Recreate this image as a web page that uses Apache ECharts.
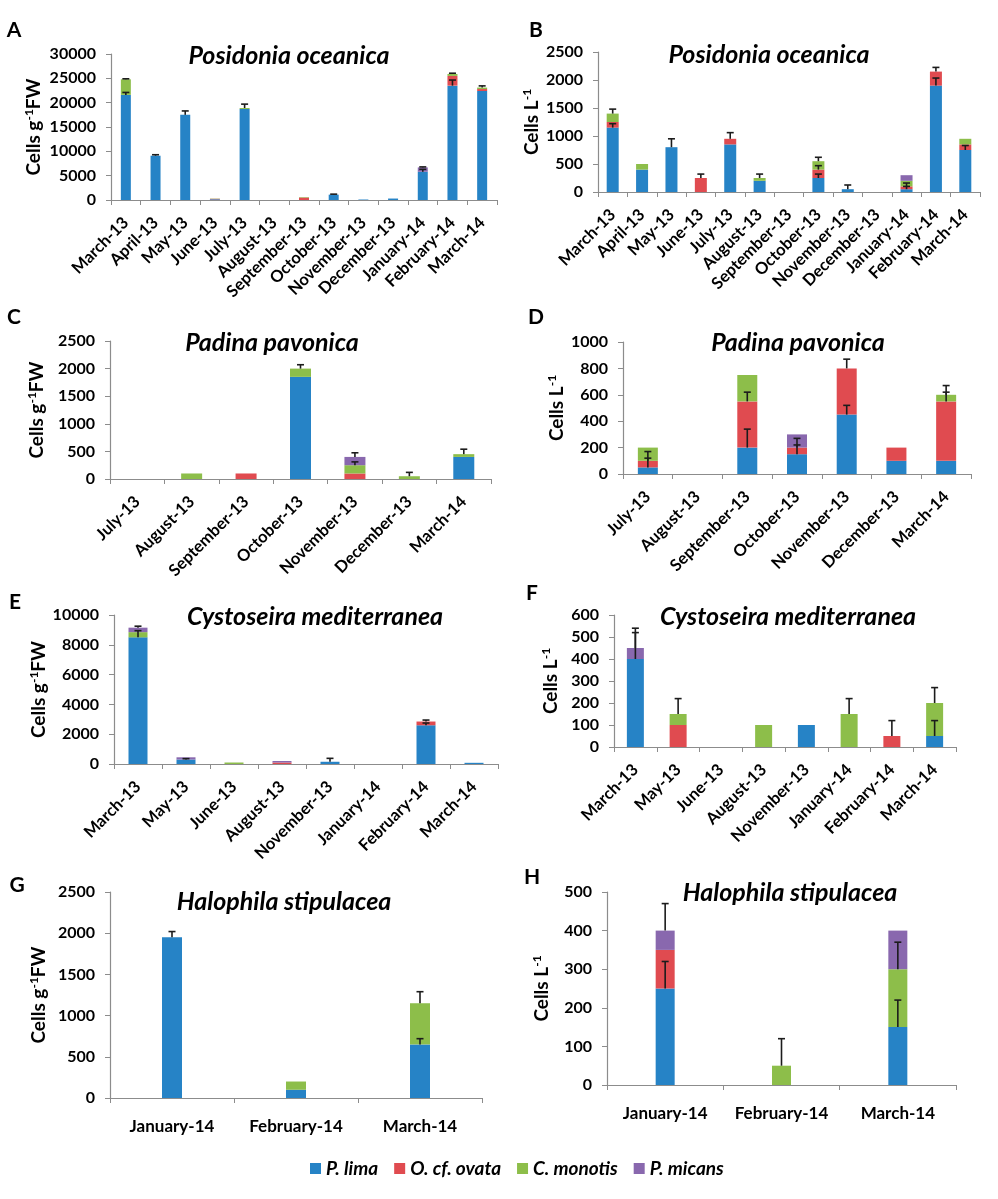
<!DOCTYPE html>
<html>
<head>
<meta charset="utf-8">
<script src="https://cdn.jsdelivr.net/npm/echarts@6/dist/echarts.min.js"></script>
<style>
  html, body { margin: 0; padding: 0; background: #fff; }
  #chart { width: 998px; height: 1199px; }
</style>
</head>
<body>
<div id="chart"></div>
<script>
// A - Posidonia oceanica (cells g-1 FW)
const catsA = ['March-13', 'April-13', 'May-13', 'June-13', 'July-13', 'August-13', 'September-13', 'October-13', 'November-13', 'December-13', 'January-14', 'February-14', 'March-14'];
const limaA = [21600, 9100, 17500, 150, 18700, 0, 0, 1100, 100, 300, 5800, 23500, 22400];
const ovataA = [0, 0, 0, 100, 0, 0, 500, 0, 0, 0, 0, 2000, 400];
const monotisA = [3200, 0, 0, 50, 200, 0, 100, 0, 0, 0, 0, 400, 300];
const micansA = [0, 0, 0, 0, 0, 0, 0, 0, 0, 0, 900, 0, 0];
const errLimaA = [500, 200, 800, 0, 0, 0, 0, 100, 0, 0, 500, 1150, 0];
const errOvataA = [0, 0, 0, 0, 0, 0, 0, 0, 0, 0, 0, 0, 0];
const errMonotisA = [100, 0, 0, 0, 800, 0, 0, 0, 0, 0, 0, 150, 350];
const errMicansA = [0, 0, 0, 0, 0, 0, 0, 0, 0, 0, 100, 0, 0];

// B - Posidonia oceanica (cells L-1)
const catsB = catsA;
const limaB = [1150, 400, 800, 0, 850, 200, 0, 250, 50, 0, 50, 1900, 750];
const ovataB = [100, 0, 0, 250, 100, 0, 0, 150, 0, 0, 50, 250, 100];
const monotisB = [150, 100, 0, 0, 0, 50, 0, 150, 0, 0, 100, 0, 100];
const micansB = [0, 0, 0, 0, 0, 0, 0, 0, 0, 0, 100, 0, 0];
const errLimaB = [70, 0, 150, 0, 0, 0, 0, 70, 75, 0, 50, 135, 80];
const errOvataB = [0, 0, 0, 70, 110, 0, 0, 70, 0, 0, 60, 75, 0];
const errMonotisB = [80, 0, 0, 0, 0, 70, 0, 70, 0, 0, 0, 0, 0];
const errMicansB = [0, 0, 0, 0, 0, 0, 0, 0, 0, 0, 0, 0, 0];

// C - Padina pavonica (cells g-1 FW)
const catsC = ['July-13', 'August-13', 'September-13', 'October-13', 'November-13', 'December-13', 'March-14'];
const limaC = [0, 0, 0, 1850, 0, 0, 400];
const ovataC = [0, 0, 100, 0, 100, 0, 0];
const monotisC = [0, 100, 0, 150, 150, 50, 50];
const micansC = [0, 0, 0, 0, 150, 0, 0];
const errLimaC = [0, 0, 0, 0, 0, 0, 0];
const errOvataC = [0, 0, 0, 0, 0, 0, 0];
const errMonotisC = [0, 0, 0, 70, 60, 70, 90];
const errMicansC = [0, 0, 0, 0, 75, 0, 0];

// D - Padina pavonica (cells L-1)
const catsD = catsC;
const limaD = [50, 0, 200, 150, 450, 100, 100];
const ovataD = [50, 0, 350, 50, 350, 100, 450];
const monotisD = [100, 0, 200, 0, 0, 0, 50];
const micansD = [0, 0, 0, 100, 0, 0, 0];
const errLimaD = [70, 0, 140, 70, 70, 0, 0];
const errOvataD = [70, 0, 70, 70, 70, 0, 70];
const errMonotisD = [0, 0, 0, 0, 0, 0, 70];
const errMicansD = [0, 0, 0, 0, 0, 0, 0];

// E - Cystoseira mediterranea (cells g-1 FW)
const catsE = ['March-13', 'May-13', 'June-13', 'August-13', 'November-13', 'January-14', 'February-14', 'March-14'];
const limaE = [8500, 300, 0, 0, 150, 0, 2600, 80];
const ovataE = [0, 0, 0, 100, 0, 0, 250, 0];
const monotisE = [350, 0, 100, 0, 0, 0, 0, 0];
const micansE = [300, 150, 0, 100, 0, 0, 0, 0];
const errLimaE = [450, 60, 0, 0, 230, 0, 150, 0];
const errOvataE = [0, 0, 0, 0, 0, 0, 100, 0];
const errMonotisE = [0, 0, 0, 0, 0, 0, 0, 0];
const errMicansE = [100, 0, 0, 0, 0, 0, 0, 0];

// F - Cystoseira mediterranea (cells L-1)
const catsF = catsE;
const limaF = [400, 0, 0, 0, 100, 0, 0, 50];
const ovataF = [0, 100, 0, 0, 0, 0, 50, 0];
const monotisF = [0, 50, 0, 100, 0, 150, 0, 150];
const micansF = [50, 0, 0, 0, 0, 0, 0, 0];
const errLimaF = [120, 0, 0, 0, 0, 0, 0, 70];
const errOvataF = [0, 0, 0, 0, 0, 0, 70, 0];
const errMonotisF = [0, 70, 0, 0, 0, 70, 0, 70];
const errMicansF = [90, 0, 0, 0, 0, 0, 0, 0];

// G - Halophila stipulacea (cells g-1 FW)
const catsG = ['January-14', 'February-14', 'March-14'];
const limaG = [1950, 100, 650];
const ovataG = [0, 0, 0];
const monotisG = [0, 100, 500];
const micansG = [0, 0, 0];
const errLimaG = [70, 0, 70];
const errOvataG = [0, 0, 0];
const errMonotisG = [0, 0, 140];
const errMicansG = [0, 0, 0];

// H - Halophila stipulacea (cells L-1)
const catsH = catsG;
const limaH = [250, 0, 150];
const ovataH = [100, 0, 0];
const monotisH = [0, 50, 150];
const micansH = [50, 0, 100];
const errLimaH = [70, 0, 70];
const errOvataH = [0, 0, 0];
const errMonotisH = [0, 70, 70];
const errMicansH = [70, 0, 0];

const speciesNames = ['P. lima', 'O. cf. ovata', 'C. monotis', 'P. micans'];
const speciesColors = ['#2683c6', '#e04b50', '#8dbe4a', '#8968ae'];

const FONT = 'Lato, "Open Sans", sans-serif';
const AXIS_COLOR = '#8c8c8c';

const panels = [
  { letter: 'A', title: 'Posidonia oceanica', cats: catsA, vals: [limaA, ovataA, monotisA, micansA], errs: [errLimaA, errOvataA, errMonotisA, errMicansA],
    unit: 'g', grid: { left: 111, top: 54, width: 386, height: 146 }, max: 30000, interval: 5000, barWidth: 10, nameGap: 66, rotate: 45,
    letterPos: [14, 30], titlePos: [289, 56] },
  { letter: 'B', title: 'Posidonia oceanica', cats: catsB, vals: [limaB, ovataB, monotisB, micansB], errs: [errLimaB, errOvataB, errMonotisB, errMicansB],
    unit: 'L', grid: { left: 598, top: 52, width: 382, height: 140 }, max: 2500, interval: 500, barWidth: 12, nameGap: 52, rotate: 45,
    letterPos: [536, 30], titlePos: [769, 55] },
  { letter: 'C', title: 'Padina pavonica', cats: catsC, vals: [limaC, ovataC, monotisC, micansC], errs: [errLimaC, errOvataC, errMonotisC, errMicansC],
    unit: 'g', grid: { left: 110, top: 341, width: 381, height: 138 }, max: 2500, interval: 500, barWidth: 21, nameGap: 62, rotate: 45,
    letterPos: [14, 317], titlePos: [272, 343] },
  { letter: 'D', title: 'Padina pavonica', cats: catsD, vals: [limaD, ovataD, monotisD, micansD], errs: [errLimaD, errOvataD, errMonotisD, errMicansD],
    unit: 'L', grid: { left: 623, top: 342, width: 348, height: 132 }, max: 1000, interval: 200, barWidth: 20, nameGap: 52, rotate: 45,
    letterPos: [536, 317], titlePos: [798, 343] },
  { letter: 'E', title: 'Cystoseira mediterranea', cats: catsE, vals: [limaE, ovataE, monotisE, micansE], errs: [errLimaE, errOvataE, errMonotisE, errMicansE],
    unit: 'g', grid: { left: 114, top: 615, width: 384, height: 149 }, max: 10000, interval: 2000, barWidth: 19, nameGap: 64, rotate: 45,
    letterPos: [15, 602], titlePos: [315, 617] },
  { letter: 'F', title: 'Cystoseira mediterranea', cats: catsF, vals: [limaF, ovataF, monotisF, micansF], errs: [errLimaF, errOvataF, errMonotisF, errMicansF],
    unit: 'L', grid: { left: 614, top: 615, width: 342, height: 132 }, max: 600, interval: 100, barWidth: 17, nameGap: 52, rotate: 45,
    letterPos: [532, 593], titlePos: [788, 617] },
  { letter: 'G', title: 'Halophila stipulacea', cats: catsG, vals: [limaG, ovataG, monotisG, micansG], errs: [errLimaG, errOvataG, errMonotisG, errMicansG],
    unit: 'g', grid: { left: 110, top: 892, width: 372, height: 206 }, max: 2500, interval: 500, barWidth: 20, nameGap: 60, rotate: 0,
    letterPos: [17, 885], titlePos: [284, 902] },
  { letter: 'H', title: 'Halophila stipulacea', cats: catsH, vals: [limaH, ovataH, monotisH, micansH], errs: [errLimaH, errOvataH, errMonotisH, errMicansH],
    unit: 'L', grid: { left: 607, top: 892, width: 349, height: 193 }, max: 500, interval: 100, barWidth: 19, nameGap: 54, rotate: 0,
    letterPos: [532, 877], titlePos: [790, 893] }
];

const grids = [];
const xAxes = [];
const yAxes = [];
const series = [];
const graphics = [];

const nameRich = {
  a: { fontFamily: FONT, fontWeight: 'bold', fontSize: 19, color: '#000', lineHeight: 22 },
  s: { fontFamily: FONT, fontWeight: 'bold', fontSize: 12, color: '#000', lineHeight: 22, verticalAlign: 'top', padding: [0, 0, 9, 0] }
};

panels.forEach(function (p, i) {
  grids.push(Object.assign({ containLabel: false }, p.grid));

  xAxes.push({
    type: 'category',
    gridIndex: i,
    data: p.cats,
    axisLine: { show: true, lineStyle: { color: AXIS_COLOR, width: 1.2 } },
    axisTick: { show: true, length: 5, lineStyle: { color: AXIS_COLOR } },
    axisLabel: {
      interval: 0,
      rotate: p.rotate,
      margin: p.rotate ? 20 : 20,
      color: '#000',
      fontFamily: FONT,
      fontWeight: 'bold',
      fontSize: p.rotate ? 16.5 : 17
    }
  });

  yAxes.push({
    type: 'value',
    gridIndex: i,
    min: 0,
    max: p.max,
    interval: p.interval,
    name: p.unit === 'g' ? '{a|Cells g}{s|-1}{a|FW}' : '{a|Cells L}{s|-1}',
    nameLocation: 'middle',
    nameGap: p.nameGap,
    nameRotate: 90,
    nameTextStyle: { rich: nameRich },
    axisLine: { show: true, lineStyle: { color: AXIS_COLOR, width: 1.2 } },
    axisTick: { show: true, length: 5, lineStyle: { color: AXIS_COLOR } },
    splitLine: { show: false },
    axisLabel: {
      margin: 15,
      color: '#000',
      fontFamily: FONT,
      fontWeight: 'bold',
      fontSize: 16,
      formatter: function (v) { return String(v); }
    }
  });

  // stacked bars, one per species
  speciesNames.forEach(function (name, s) {
    series.push({
      name: name,
      type: 'bar',
      xAxisIndex: i,
      yAxisIndex: i,
      stack: 'panel' + i,
      barWidth: p.barWidth,
      itemStyle: { color: speciesColors[s] },
      data: p.vals[s]
    });
  });

  // error bars (plus direction) from the top of each segment
  const errData = [];
  p.cats.forEach(function (c, k) {
    let base = 0;
    for (let s = 0; s < 4; s++) {
      base += p.vals[s][k];
      const e = p.errs[s][k];
      if (e > 0 && p.vals[s][k] > 0) errData.push([k, base, base + e]);
    }
  });
  series.push({
    name: 'error',
    type: 'custom',
    xAxisIndex: i,
    yAxisIndex: i,
    z: 10,
    encode: { x: 0, y: [1, 2] },
    data: errData,
    renderItem: function (params, api) {
      const p0 = api.coord([api.value(0), api.value(1)]);
      const p1 = api.coord([api.value(0), api.value(2)]);
      const w = 3.5;
      const st = { stroke: '#1c1c1c', lineWidth: 1.6 };
      return {
        type: 'group',
        children: [
          { type: 'line', shape: { x1: p0[0], y1: p0[1], x2: p1[0], y2: p1[1] }, style: st },
          { type: 'line', shape: { x1: p1[0] - w, y1: p1[1], x2: p1[0] + w, y2: p1[1] }, style: st }
        ]
      };
    }
  });

  graphics.push({
    type: 'text', x: p.letterPos[0], y: p.letterPos[1],
    style: { text: p.letter, font: 'bold 21px ' + FONT, fill: '#000', textAlign: 'center', textVerticalAlign: 'middle' }
  });
  graphics.push({
    type: 'text', x: p.titlePos[0], y: p.titlePos[1],
    style: { text: p.title, font: 'italic bold 25px ' + FONT, fill: '#000', textAlign: 'center', textVerticalAlign: 'middle' }
  });
});

const chart = echarts.init(document.getElementById('chart'));
chart.setOption({
  animation: false,
  backgroundColor: '#fff',
  grid: grids,
  xAxis: xAxes,
  yAxis: yAxes,
  series: series,
  graphic: graphics,
  legend: {
    data: speciesNames,
    left: 305,
    top: 1154,
    icon: 'rect',
    itemWidth: 11,
    itemHeight: 11,
    itemGap: 16,
    textStyle: { fontFamily: FONT, fontWeight: 'bold', fontStyle: 'italic', fontSize: 19, color: '#000' }
  }
});
</script>
</body>
</html>
